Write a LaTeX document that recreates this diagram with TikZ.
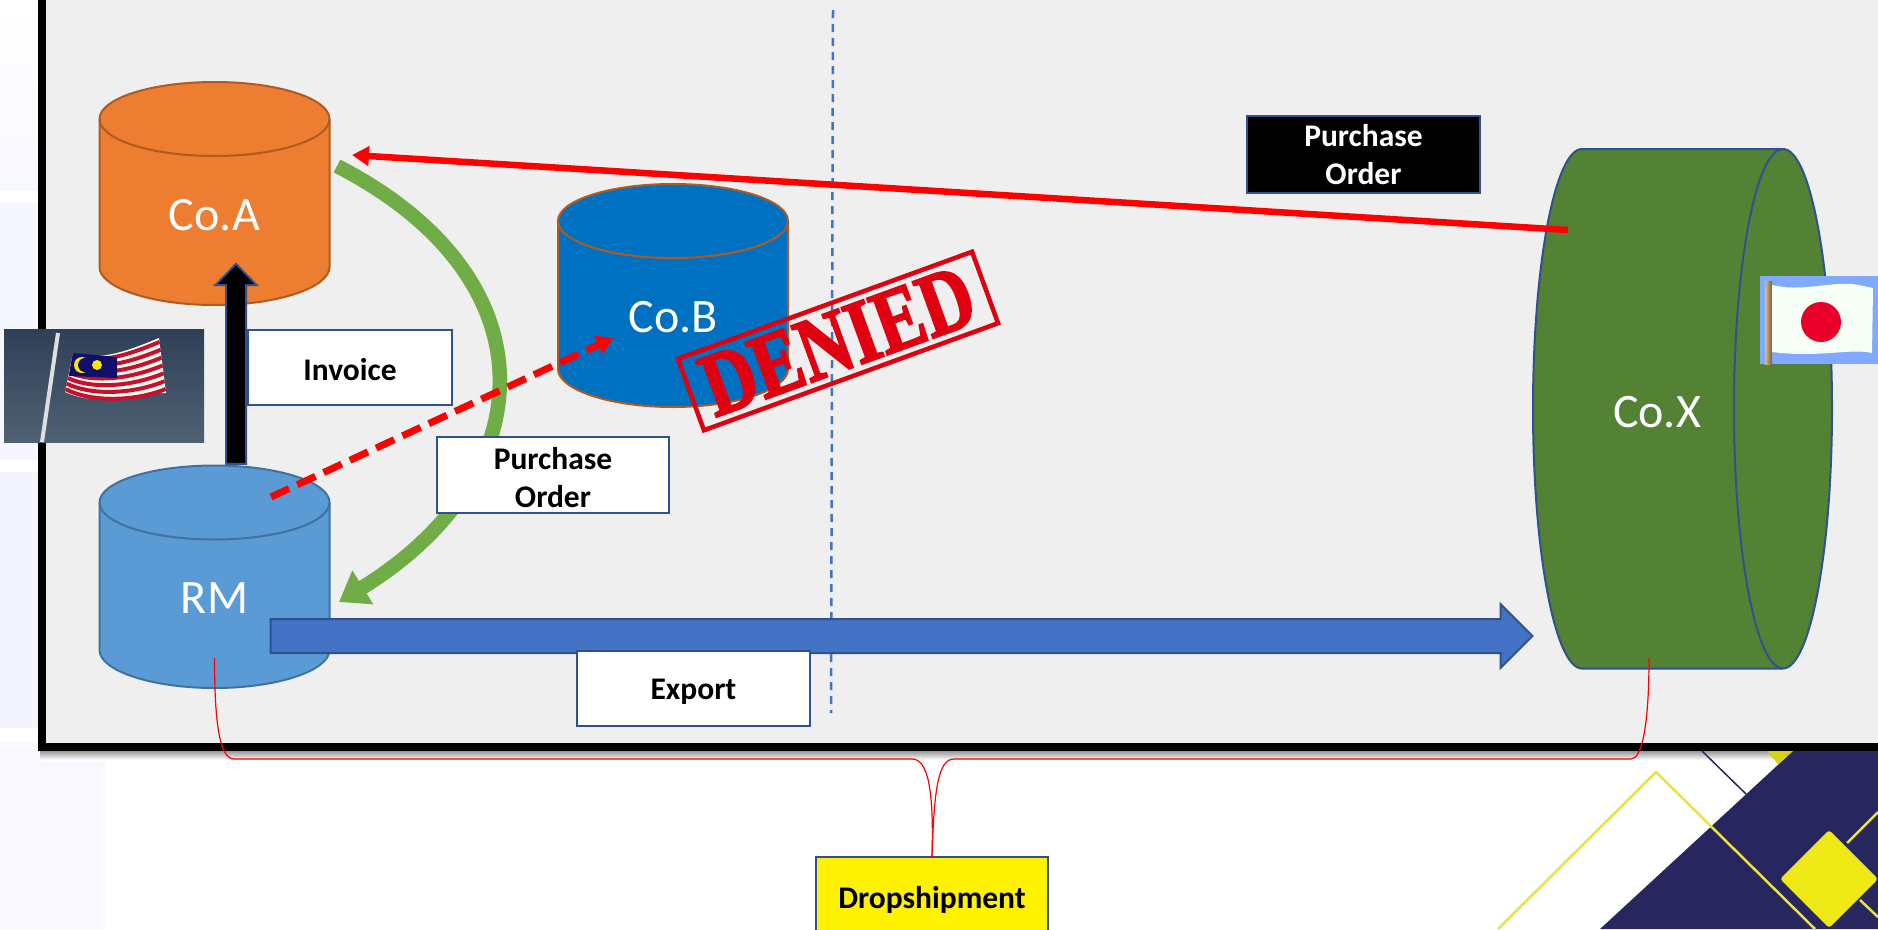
\documentclass[tikz,border=0pt]{standalone}
\usepackage{fontspec}
\setmainfont{Carlito}
\newfontfamily\stampfont[BoldFont={Liberation Serif Bold},BoldFeatures={FakeBold=2.5}]{Liberation Serif}
\usetikzlibrary{shapes.geometric,shapes.arrows,arrows.meta,calc}
\definecolor{panel}{HTML}{EFEFEF}
\definecolor{bordblue}{HTML}{2F528F}
\definecolor{orangeA}{HTML}{ED7D31}
\definecolor{orangeL}{HTML}{AE5A21}
\definecolor{blueB}{HTML}{0070C0}
\definecolor{blueRM}{HTML}{5B9BD5}
\definecolor{blueRML}{HTML}{41719C}
\definecolor{greenX}{HTML}{548235}
\definecolor{greenArrow}{HTML}{70AD47}
\definecolor{blueArrow}{HTML}{4472C4}
\definecolor{navy}{HTML}{27265F}
\definecolor{yel}{HTML}{EEE814}
\definecolor{yelline}{HTML}{E6E445}
\definecolor{stamp}{HTML}{E0000F}
\definecolor{flagtop}{HTML}{2F3F58}
\definecolor{flagbot}{HTML}{4F6272}
\definecolor{flagred}{HTML}{C8102E}
\definecolor{flagblue}{HTML}{10106A}
\definecolor{jpbg}{HTML}{80AAFF}
\definecolor{jpred}{HTML}{E8002A}
\definecolor{poleL}{HTML}{D8BC88}
\definecolor{poleD}{HTML}{7A5C38}
\tikzset{
  cylshape/.style={line width=2pt,line join=round},
  cyltext/.style={text=white,font=\fontsize{48}{48}\selectfont,inner sep=0pt},
  labelbox/.style={draw=bordblue,line width=2pt,fill=white,text=black,inner sep=0pt,outer sep=0pt,
    align=center,font=\fontsize{31.5}{38}\selectfont\bfseries},
  singleline/.style={labelbox,text height=26pt},
  boxtext/.style={inner sep=0pt,align=center,font=\fontsize{31.5}{38}\selectfont\bfseries},
  thinred/.style={draw=red,line width=1.2pt},
}
% vertical cylinder: centre x, top ellipse y, bottom ellipse y, fill, line
\newcommand{\vcyl}[5]{%
  \draw[cylshape,fill=#4,draw=#5]
    (#1-115,#2) .. controls +(0,-20.4) and +(-63.5,0) .. ++(115,-37)
    .. controls +(63.5,0) and +(0,-20.4) .. ++(115,37)
    -- (#1+115,#3) .. controls +(0,20.4) and +(63.5,0) .. ++(-115,38)
    .. controls +(-63.5,0) and +(0,20.4) .. ++(-115,-38) -- cycle;
  \draw[cylshape,draw=#5]
    (#1-115,#2) .. controls +(0,20.4) and +(-63.5,0) .. ++(115,37)
    .. controls +(63.5,0) and +(0,20.4) .. ++(115,-37);
}
\begin{document}
\begin{tikzpicture}[x=1pt,y=-1pt]
\clip (0,0) rectangle (1878,929);
\fill[white] (0,0) rectangle (1878,929);
% left strip
\shade[top color=white,bottom color=white!90!blue!30] (0,0) rectangle (38,190);
\fill[white!93!blue!50] (0,203) rectangle (38,460);
\fill[white!88!blue!35] (0,472) rectangle (38,728);
\fill[white!96!blue!60] (0,742) rectangle (105,929);
% panel shadow
\shade[top color=black!40,bottom color=white] (40,751) rectangle (1878,760);
% decoration
\fill[navy] (1600,929) -- (1793,751) -- (1878,751) -- (1878,929) -- cycle;
\fill[yel!90!black] (1767,751) -- (1793,751) -- (1778,764) -- cycle;
\draw[navy,line width=1.5pt] (1702,751) -- (1746,794);
\draw[yelline,line width=2.5pt,line join=round] (1498,929) -- (1656,772) -- (1815,929);
\draw[yelline,line width=2.5pt] (1847,843) -- (1878,812);
\draw[yelline,line width=2.5pt] (1860,900) -- (1878,917);
\fill[yel,rounded corners=3pt] (1829,830) -- (1878,879) -- (1829,928) -- (1780,879) -- cycle;
% frame
\fill[black] (38,-5) rectangle (1884,751);
\fill[panel] (46,-5) rectangle (1884,743);
% divider
\coordinate (divtop) at (833,10);
\coordinate (divbot) at (831,713);
\draw[blueArrow,line width=2.5pt,dash pattern=on 8pt off 6pt] (divtop) -- (divbot);
% cylinders
\vcyl{214.5}{119}{267}{orangeA}{orangeL}
\node[cyltext] (coa) at (214.5,215.5) {Co.A};
\vcyl{673}{221}{369}{blueB}{orangeL}
\node[cyltext] (cob) at (673,317) {Co.B};
% invoice arrow
\node[single arrow,rotate=90,draw=bordblue,fill=black,line width=2pt,inner sep=0pt,outer sep=0pt,
  minimum height=200pt,minimum width=39pt,single arrow head extend=10.5pt,single arrow tip angle=88,anchor=center] (invarrow) at (236,369) {\rule{0pt}{18pt}};
\vcyl{214.5}{502.5}{650}{blueRM}{blueRML}
\node[cyltext] (rm) at (214.5,598) {RM};
% Co.X cylinder
\draw[cylshape,fill=greenX,draw=bordblue]
  (1783,149) .. controls +(27,0) and +(0,-143) .. ++(49,259.5)
  .. controls +(0,143) and +(27,0) .. ++(-49,260)
  -- (1582,668.5) .. controls +(-27,0) and +(0,143) .. ++(-49,-260)
  .. controls +(0,-143) and +(-27,0) .. ++(49,-259.5) -- cycle;
\draw[cylshape,draw=bordblue]
  (1783,149) .. controls +(-27,0) and +(0,-143) .. ++(-49,259.5)
  .. controls +(0,143) and +(-27,0) .. ++(49,260);
\node[cyltext] (cox) at (1657,412) {Co.X};
% green arrow
\coordinate (gstart) at (337,166);
\coordinate (gend) at (339,602);
\draw[greenArrow,line width=14.5pt,-{Triangle[length=28pt,width=38pt]}] (gstart) .. controls (555,278) and (545,475) .. (gend);
% boxes
\node[singleline,minimum width=204pt,minimum height=75pt] (inv) at (350,367.5) {Invoice};
\node[labelbox,minimum width=232pt,minimum height=76pt] (po) at (553,475) {};
\node[boxtext,text=black] (potxt) at ($(po)+(0,2.4)$) {Purchase\\Order};
% red dashed
\coordinate (dstart) at (271,497);
\coordinate (dend) at (613,338);
\draw[red,line width=7pt,dash pattern=on 20pt off 9pt,-{Triangle[length=16pt,width=19pt]}] (dstart) -- (dend);
% red solid
\coordinate (rstart) at (1568,230);
\coordinate (rend) at (352,155);
\draw[red,line width=6.5pt,-{Triangle[length=17pt,width=19pt]}] (rstart) -- (rend);
% export arrow
\node[single arrow,draw=bordblue,fill=blueArrow,line width=2pt,inner sep=0pt,outer sep=0pt,
  minimum height=1262pt,minimum width=62pt,single arrow head extend=15pt,single arrow tip angle=90,anchor=center] (exparrow) at (893,636) {\rule{0pt}{32pt}};
\node[singleline,minimum width=233pt,minimum height=75pt] (exp) at (693.5,688.5) {Export};
\node[labelbox,fill=black,text=white,minimum width=233pt,minimum height=77pt] (pox) at (1363.5,154.5) {Purchase\\Order};
\node[singleline,fill=yellow,minimum width=232pt,minimum height=82pt] (drop) at (932,898) {Dropshipment};
% brackets
\coordinate (rmfoot) at ($(rm)+(0,60)$);
\coordinate (coxfoot) at ($(cox)+(-8,246)$);
\draw[thinred] (rmfoot) .. controls +(0,67) and (220,759) .. (234,759) -- (912,759) .. controls (928,759) and (934,790) .. (drop.north);
\draw[thinred] (coxfoot) .. controls +(0,67) and (1642,759) .. (1631,759) -- (954,759) .. controls (938,759) and (934,790) .. (drop.north);
% denied stamp
\node[draw=stamp,line width=4.5pt,rotate=20,minimum width=313pt,minimum height=76pt,inner sep=0pt,text=stamp] (denied) at (838,341)
  {\scalebox{1.04}[1.3]{\stampfont\bfseries\fontsize{70}{70}\selectfont DENIED}};
% Malaysian flag
\shade[top color=flagtop,bottom color=flagbot] (4,329) rectangle (204,442);
\draw[white!75!gray,line width=4pt] (58,333) -- (42,442);
\fill[white!95!yellow] (73,353) .. controls (100,362) and (130,350) .. (159,338) -- (166,393) .. controls (135,392) and (100,408) .. (65,392) -- cycle;
\foreach \i in {0,...,6}{
  \pgfmathsetmacro{\t}{(\i+0.5)/7}
  \pgfmathsetmacro{\xa}{73-8*\t}
  \pgfmathsetmacro{\ya}{353+39*\t}
  \pgfmathsetmacro{\xb}{159+7*\t}
  \pgfmathsetmacro{\yb}{338+55*\t}
  \draw[flagred,line width=4pt] (\xa,\ya) .. controls ($(\xa,\ya)+(27,9+5*\t)$) and ($(\xb,\yb)+(-29,12)$) .. (\xb,\yb);
}
\fill[flagblue] (73,353) -- (117,357) -- (117,378) -- (69,376) -- cycle;
\fill[yellow!90!orange] (82,365) circle (8);
\fill[flagblue] (85,365) circle (7);
\fill[yellow!90!orange] (97,365) circle (5);
% Japanese flag
\fill[jpbg] (1760,276) rectangle (1878,364);
\shade[left color=poleL,right color=poleD] (1765,281) rectangle (1772,364);
\fill[white!97!green] (1772,285) .. controls (1800,292) and (1830,282) .. (1852,284) .. controls (1860,285) and (1868,287) .. (1873,288) -- (1872,353) .. controls (1850,348) and (1820,358) .. (1772,352) -- cycle;
\fill[jpred] (1821,322) circle (20);
\end{tikzpicture}
\end{document}
